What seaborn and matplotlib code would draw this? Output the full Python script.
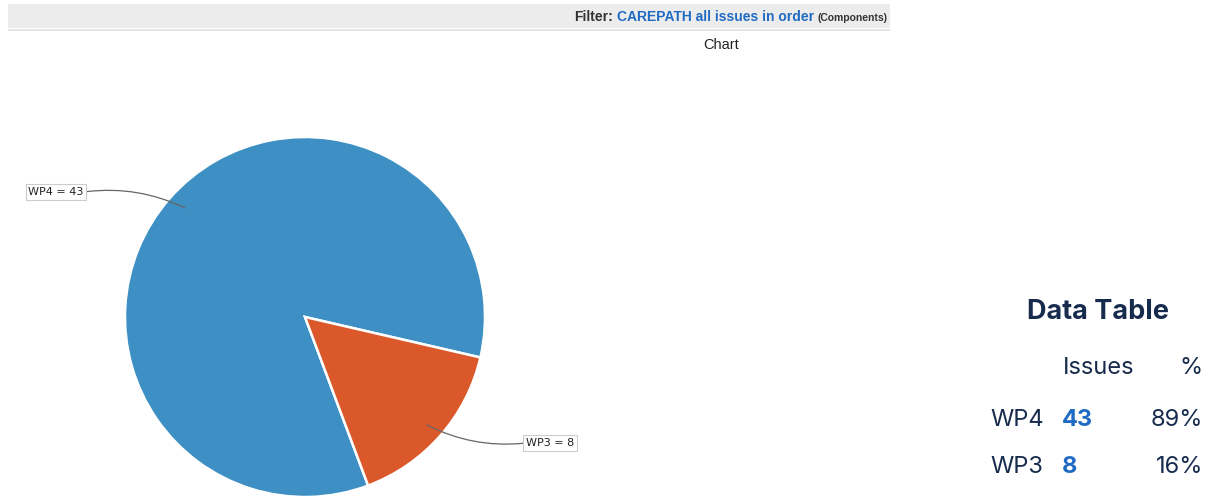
import matplotlib
matplotlib.use("Agg")
import matplotlib.pyplot as plt
from matplotlib.patches import Rectangle
from matplotlib.transforms import IdentityTransform
import seaborn as sns

# Issue counts per component
components = ["WP4", "WP3"]
issues = [43, 8]
percent_labels = ["89%", "16%"]
filter_name = "CAREPATH all issues in order"

sns.set_theme(style="white")
plt.rcParams["font.family"] = ["Liberation Sans", "DejaVu Sans"]

W, H = 1211, 496
fig = plt.figure(figsize=(W / 100, H / 100), dpi=100)
fig.patch.set_facecolor("white")

def fx(px):
    return px / W

def fy(py):
    return 1 - py / H

# Header band
fig.patches.append(Rectangle((fx(8), fy(28)), fx(882), 24 / H, transform=fig.transFigure,
                             facecolor="#ececec", edgecolor="none", zorder=0))
fig.patches.append(Rectangle((fx(8), fy(31)), fx(882), 2 / H, transform=fig.transFigure,
                             facecolor="#e4e4e4", edgecolor="none", zorder=0))

blue_text = "#1f6bc4"
dark_text = "#333333"
base_y = fy(17) * H

# Build the header right-to-left so it ends at the band's right edge
t3 = fig.text(fx(888) * W, fy(18) * H, "(Components)", ha="right", va="center",
              fontsize=7.5, fontweight="bold", color=dark_text, transform=IdentityTransform())
fig.canvas.draw()
r = fig.canvas.get_renderer()
bb3 = t3.get_window_extent(r)
t2 = fig.text(bb3.x0 - 4, base_y, filter_name, ha="right", va="center",
              fontsize=10, fontweight="bold", color=blue_text, transform=IdentityTransform())
bb2 = t2.get_window_extent(r)
fig.text(bb2.x0 - 4, base_y, "Filter:", ha="right", va="center", fontsize=10,
         fontweight="bold", color=dark_text, transform=IdentityTransform())

fig.text(fx(721), fy(45), "Chart", ha="center", va="center", fontsize=10.5,
         color="#222222")

# Pie chart
cx, cy, rad = 305, 317, 180
ax = fig.add_axes([fx(cx - rad), fy(cy + rad), 2 * rad / W, 2 * rad / H])
colors = ["#3d8fc4", "#db582b"]
ax.pie(issues, colors=colors, startangle=-13, counterclock=True, radius=1,
       wedgeprops=dict(edgecolor="white", linewidth=1.8))
ax.set_xlim(-1, 1)
ax.set_ylim(-1, 1)
ax.set_aspect("auto")
ax.axis("off")

def to_data(px, py):
    return ((px - cx) / rad, (cy - py) / rad)

label_pos = [to_data(56, 192), to_data(550, 443)]
point_pos = [to_data(185, 208), to_data(427, 425)]
rads = [-0.15, -0.15]
relpos = [(1, 0.5), (0, 0.5)]
for name, val, lp, pp, rr, rp in zip(components, issues, label_pos, point_pos, rads, relpos):
    ax.annotate(f"{name} = {val}", xy=pp, xytext=lp, ha="center", va="center",
                fontsize=8, color="#222222", family=["DejaVu Sans"],
                bbox=dict(boxstyle="square,pad=0.25", fc="white", ec="#cccccc", lw=0.8),
                arrowprops=dict(arrowstyle="-", color="#666666", lw=0.9, relpos=rp,
                                connectionstyle=f"arc3,rad={rr}", shrinkA=0, shrinkB=0),
                annotation_clip=False)

# Data table
tf = ["Inter", "DejaVu Sans"]
ink = "#172b4d"
fig.text(fx(1098), fy(312), "Data Table", ha="center", va="center", fontsize=19.5,
         fontweight="bold", color=ink, family=tf)
fig.text(fx(1099), fy(368), "Issues", ha="center", va="center", fontsize=17,
         color=ink, family=tf)
fig.text(fx(1203), fy(368), "%", ha="right", va="center", fontsize=17,
         color=ink, family=tf)
row_y = [420, 467]
for name, val, pct, y in zip(components, issues, percent_labels, row_y):
    fig.text(fx(990), fy(y), name, ha="left", va="center", fontsize=17,
             color=ink, family=tf)
    fig.text(fx(1062), fy(y), str(val), ha="left", va="center", fontsize=17,
             fontweight="bold", color=blue_text, family=tf)
    fig.text(fx(1203), fy(y), pct, ha="right", va="center", fontsize=17,
             color=ink, family=tf)

fig.savefig("out.png", dpi=100)
